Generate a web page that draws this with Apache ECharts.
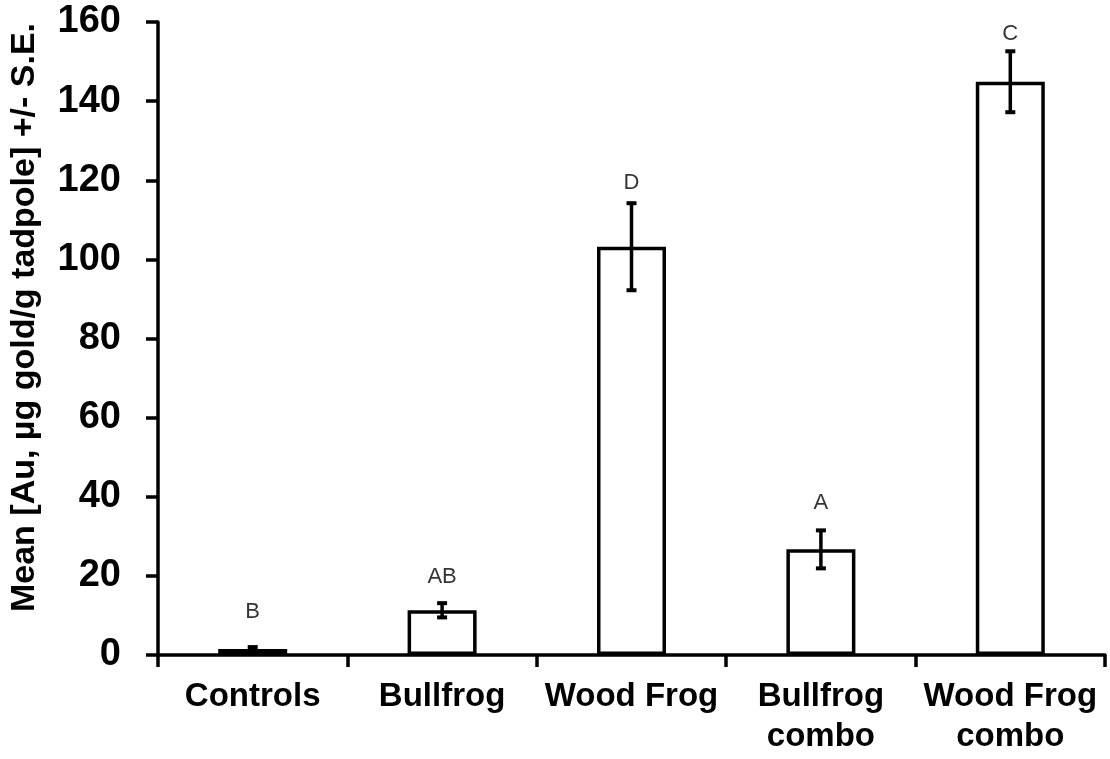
<!DOCTYPE html>
<html>
<head>
<meta charset="utf-8">
<script src="https://cdn.jsdelivr.net/npm/echarts@6/dist/echarts.min.js"></script>
<style>
  html, body { margin: 0; padding: 0; background: #fff; }
  #chart { width: 1110px; height: 759px; }
</style>
</head>
<body>
<div id="chart"></div>
<script>
// ---- data ----
const categories = ['Controls', 'Bullfrog', 'Wood Frog', 'Bullfrog\ncombo', 'Wood Frog\ncombo'];
const means = [1.5, 11.3, 103.2, 26.7, 144.9];
const stdErr = [0.5, 1.8, 11.0, 4.8, 7.7];
const letters = ['B', 'AB', 'D', 'A', 'C'];
const letterY = [10.9, 19.8, 119.2, 38.4, 157.0];
const yTicks = { min: 0, max: 160, interval: 20 };

const FONT = '"Liberation Sans", Arial, Helvetica, sans-serif';

const chart = echarts.init(document.getElementById('chart'), null, { renderer: 'canvas' });

const errData = means.map((m, i) => [i, m - stdErr[i], m + stdErr[i]]);
const letterData = letters.map((l, i) => [i, letterY[i], l]);

chart.setOption({
  animation: false,
  backgroundColor: '#ffffff',
  grid: { left: 158, right: 5, top: 22, bottom: 104, containLabel: false },
  xAxis: {
    type: 'category',
    data: categories,
    boundaryGap: true,
    axisLine: { show: true, lineStyle: { color: '#000', width: 3.5 } },
    axisTick: { show: true, length: 12, lineStyle: { color: '#000', width: 3.5 }, alignWithLabel: false },
    axisLabel: {
      color: '#000', fontFamily: FONT, fontWeight: 'bold', fontSize: 33,
      lineHeight: 40, margin: 22, interval: 0
    },
    splitLine: { show: false }
  },
  yAxis: {
    type: 'value',
    min: yTicks.min, max: yTicks.max, interval: yTicks.interval,
    name: 'Mean [Au, µg gold/g tadpole] +/- S.E.',
    nameLocation: 'middle',
    nameGap: 116,
    nameRotate: 90,
    nameTextStyle: {
      color: '#000', fontFamily: FONT, fontWeight: 'bold', fontSize: 34,
      padding: [0, 0, 0, 42]
    },
    axisLine: { show: true, lineStyle: { color: '#000', width: 3.5 } },
    axisTick: { show: true, length: 12, lineStyle: { color: '#000', width: 3.5 } },
    axisLabel: { color: '#000', fontFamily: FONT, fontWeight: 'bold', fontSize: 38, margin: 37 },
    splitLine: { show: false }
  },
  series: [
    {
      type: 'bar',
      data: means,
      barWidth: 69,
      itemStyle: { color: '#ffffff', borderColor: '#000', borderWidth: 3.5 },
      z: 2
    },
    {
      type: 'custom',
      data: errData,
      z: 3,
      renderItem: function (params, api) {
        const x = api.value(0);
        const lo = api.coord([x, api.value(1)]);
        const hi = api.coord([x, api.value(2)]);
        const half = 5;
        const capStyle = { stroke: '#000', lineWidth: 4 };
        return {
          type: 'group',
          children: [
            { type: 'line', shape: { x1: lo[0], y1: lo[1], x2: hi[0], y2: hi[1] }, style: { stroke: '#000', lineWidth: 3.5 } },
            { type: 'line', shape: { x1: lo[0] - half, y1: lo[1], x2: lo[0] + half, y2: lo[1] }, style: capStyle },
            { type: 'line', shape: { x1: hi[0] - half, y1: hi[1], x2: hi[0] + half, y2: hi[1] }, style: capStyle }
          ]
        };
      }
    },
    {
      type: 'scatter',
      data: letterData,
      symbolSize: 0,
      z: 4,
      label: {
        show: true,
        position: 'inside',
        formatter: function (p) { return p.value[2]; },
        color: '#000',
        fontFamily: FONT,
        fontSize: 22
      }
    }
  ]
});
</script>
</body>
</html>
